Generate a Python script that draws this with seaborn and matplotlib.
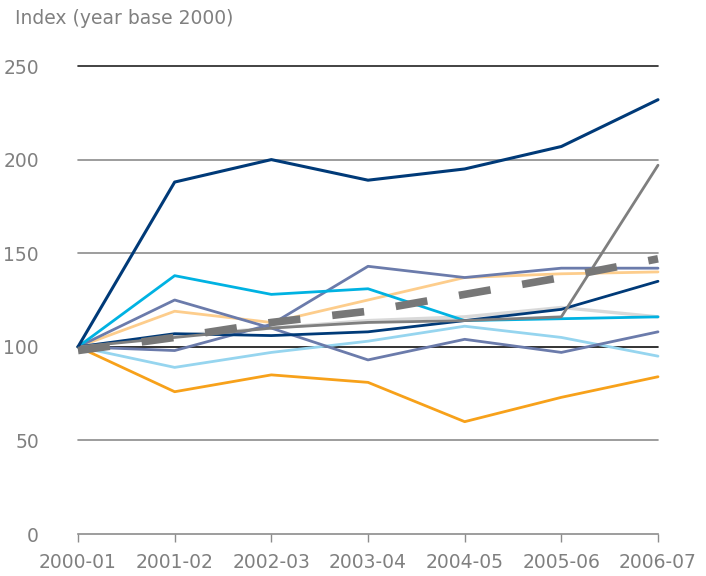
import numpy as np
import pandas as pd
import matplotlib
matplotlib.use("Agg")
import matplotlib.pyplot as plt
import seaborn as sns

years = ["2000-01", "2001-02", "2002-03", "2003-04", "2004-05", "2005-06", "2006-07"]

navy_top = [100, 188, 200, 189, 195, 207, 232]
gray_solid = [100, 105, 110, 113, 114, 116, 197]
navy_low = [100, 107, 106, 108, 114, 120, 135]
cyan = [100, 138, 128, 131, 114, 115, 116]
slate_a = [100, 125, 110, 93, 104, 97, 108]
slate_b = [100, 98, 112, 143, 137, 142, 142]
light_orange = [100, 119, 113, 125, 137, 139, 140]
light_gray = [100, 106, 110, 114, 116, 121, 116]
light_blue = [100, 89, 97, 103, 111, 105, 95]
orange = [100, 76, 85, 81, 60, 73, 84]
average = [98, 105, 113, 119, 128, 137, 147]

series = [
    (light_gray, "#d9d9d9", 2.4),
    (light_blue, "#96d5ef", 2.0),
    (orange, "#f7a11a", 2.0),
    (light_orange, "#fdcd8c", 2.0),
    (slate_a, "#6b7bab", 2.0),
    (slate_b, "#6b7bab", 2.0),
    (cyan, "#00b2e2", 2.0),
    (navy_low, "#003a78", 2.0),
    (gray_solid, "#7f7f7f", 2.0),
    (navy_top, "#003a78", 2.2),
]

sns.set_style("white")
plt.rcParams["font.family"] = ["DejaVu Sans"]

fig = plt.figure(figsize=(7.06, 5.76), dpi=100)
ax = fig.add_axes([78 / 706, 42 / 576, 580 / 706, 468 / 576])

x = np.arange(len(years))
text_color = "#808080"

# horizontal reference lines
for yv, col in [(250, "#222222"), (200, "#8c8c8c"), (150, "#8c8c8c"), (100, "#111111"), (50, "#8c8c8c")]:
    ax.axhline(yv, color=col, lw=1.2, zorder=1)

for vals, col, lw in series:
    sns.lineplot(x=x, y=vals, color=col, lw=lw, ax=ax, zorder=3)

sns.lineplot(x=x, y=average, color="#777777", lw=5.5, ax=ax, zorder=4)
ax.lines[-1].set_dashes((4.2, 4.2))

for ln in ax.lines:
    ln.set_clip_on(False)

ax.set_xlim(0, 6)
ax.set_ylim(0, 250)
ax.set_xticks(x)
ax.set_xticklabels(years)
ax.set_yticks([0, 50, 100, 150, 200, 250])

for s in ["top", "right", "left"]:
    ax.spines[s].set_visible(False)
ax.spines["bottom"].set_color("#8c8c8c")
ax.spines["bottom"].set_linewidth(1.2)

ax.tick_params(axis="x", direction="out", length=6, width=1, color="#8c8c8c",
               labelcolor=text_color, labelsize=13.5, pad=8, bottom=True)
ax.tick_params(axis="y", length=0, labelcolor=text_color, labelsize=13.5, pad=28)
ax.set_xlabel("")
ax.set_ylabel("")

fig.text(15 / 706, 1 - 18 / 576, "Index (year base 2000)", color=text_color,
         fontsize=13.5, ha="left", va="center")

fig.savefig("out.png", dpi=100)
